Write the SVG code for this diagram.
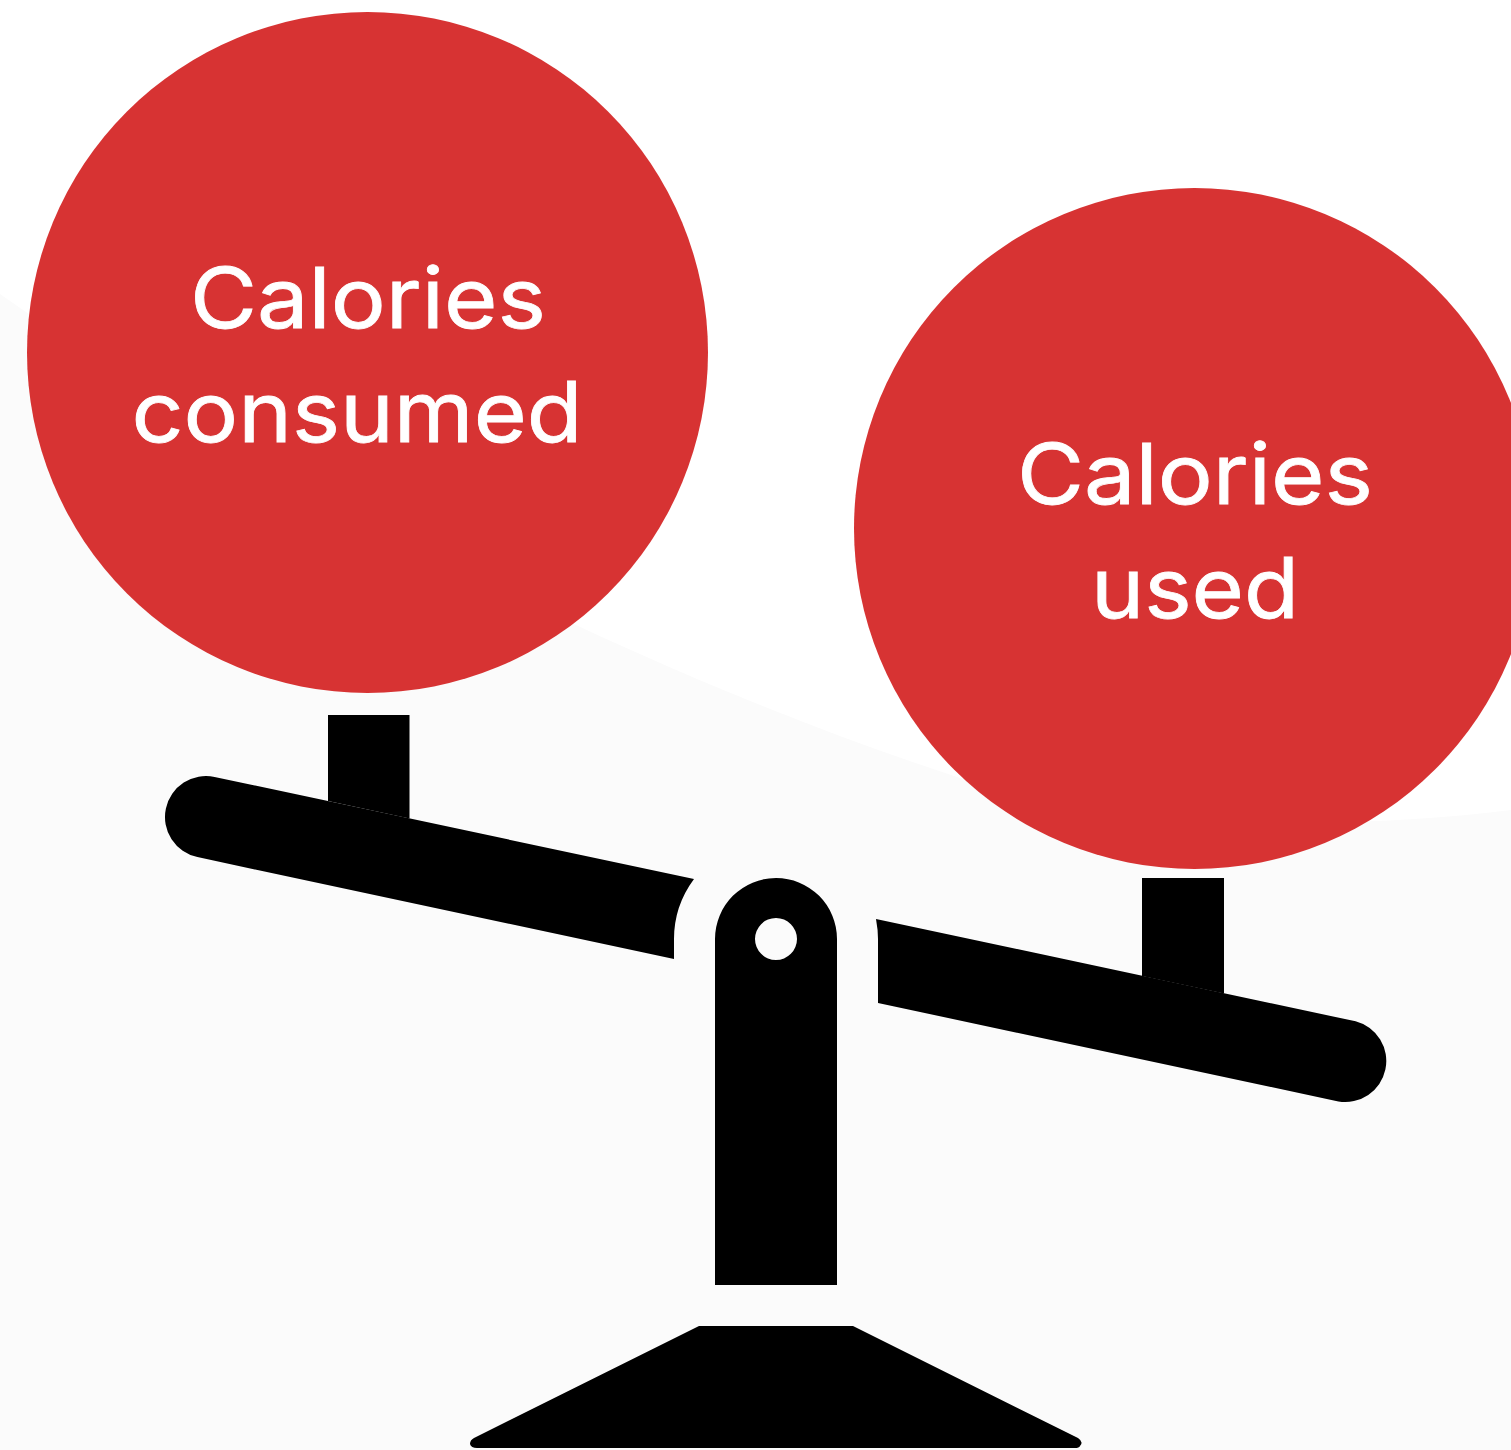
<svg xmlns="http://www.w3.org/2000/svg" width="1511" height="1450" viewBox="0 0 1511 1450">
<style>
.c{fill:#d73333}
.k{fill:#000}
.t{fill:#fff;font-family:"Inter","Liberation Sans",sans-serif;font-size:84px;font-weight:400;stroke:#fff;stroke-width:.8px;text-anchor:middle}
</style>
<rect width="1511" height="1450" fill="#fff"/>
<path d="M0 294C250 470 600 660 960 778C1150 830 1350 830 1511 810V1450H0Z" fill="#fbfbfb"/>
<g id="scale">
<path class="k" d="M328 715H409.500V818.500L328 801Z"/>
<path class="k" d="M1142 878H1224V993.500L1142 976Z"/>
<path class="k" d="M214.600 776.900L694 879Q674 906 674 939V959L197.400 857.100A41 41 0 0 1 214.600 776.900Z"/>
<path class="k" d="M876 919L1355.600 1021.300A41 41 0 0 1 1338.400 1101.400L878 1003V939Q878 930 876 919Z"/>
<path class="k" fill-rule="evenodd" d="M715 1285V939A61 61 0 0 1 837 939V1285ZM776 918A21 21 0 1 0 776 960A21 21 0 1 0 776 918Z"/>
<path class="k" d="M699 1326H853L1078 1438Q1084 1442 1080 1446Q1079 1448 1075 1448H477Q471 1448 470 1444Q470 1440 474 1438Z"/>
</g>
<g id="consumed">
<circle class="c" cx="367.500" cy="352.500" r="340.500"/>
<text class="t" x="368" y="328" textLength="356" lengthAdjust="spacingAndGlyphs">Calories</text>
<text class="t" x="357" y="442" textLength="451" lengthAdjust="spacingAndGlyphs">consumed</text>
</g>
<g id="used">
<circle class="c" cx="1194.500" cy="528.500" r="340.500"/>
<text class="t" x="1195" y="504" textLength="356" lengthAdjust="spacingAndGlyphs">Calories</text>
<text class="t" x="1195" y="618" textLength="208" lengthAdjust="spacingAndGlyphs">used</text>
</g>
</svg>
